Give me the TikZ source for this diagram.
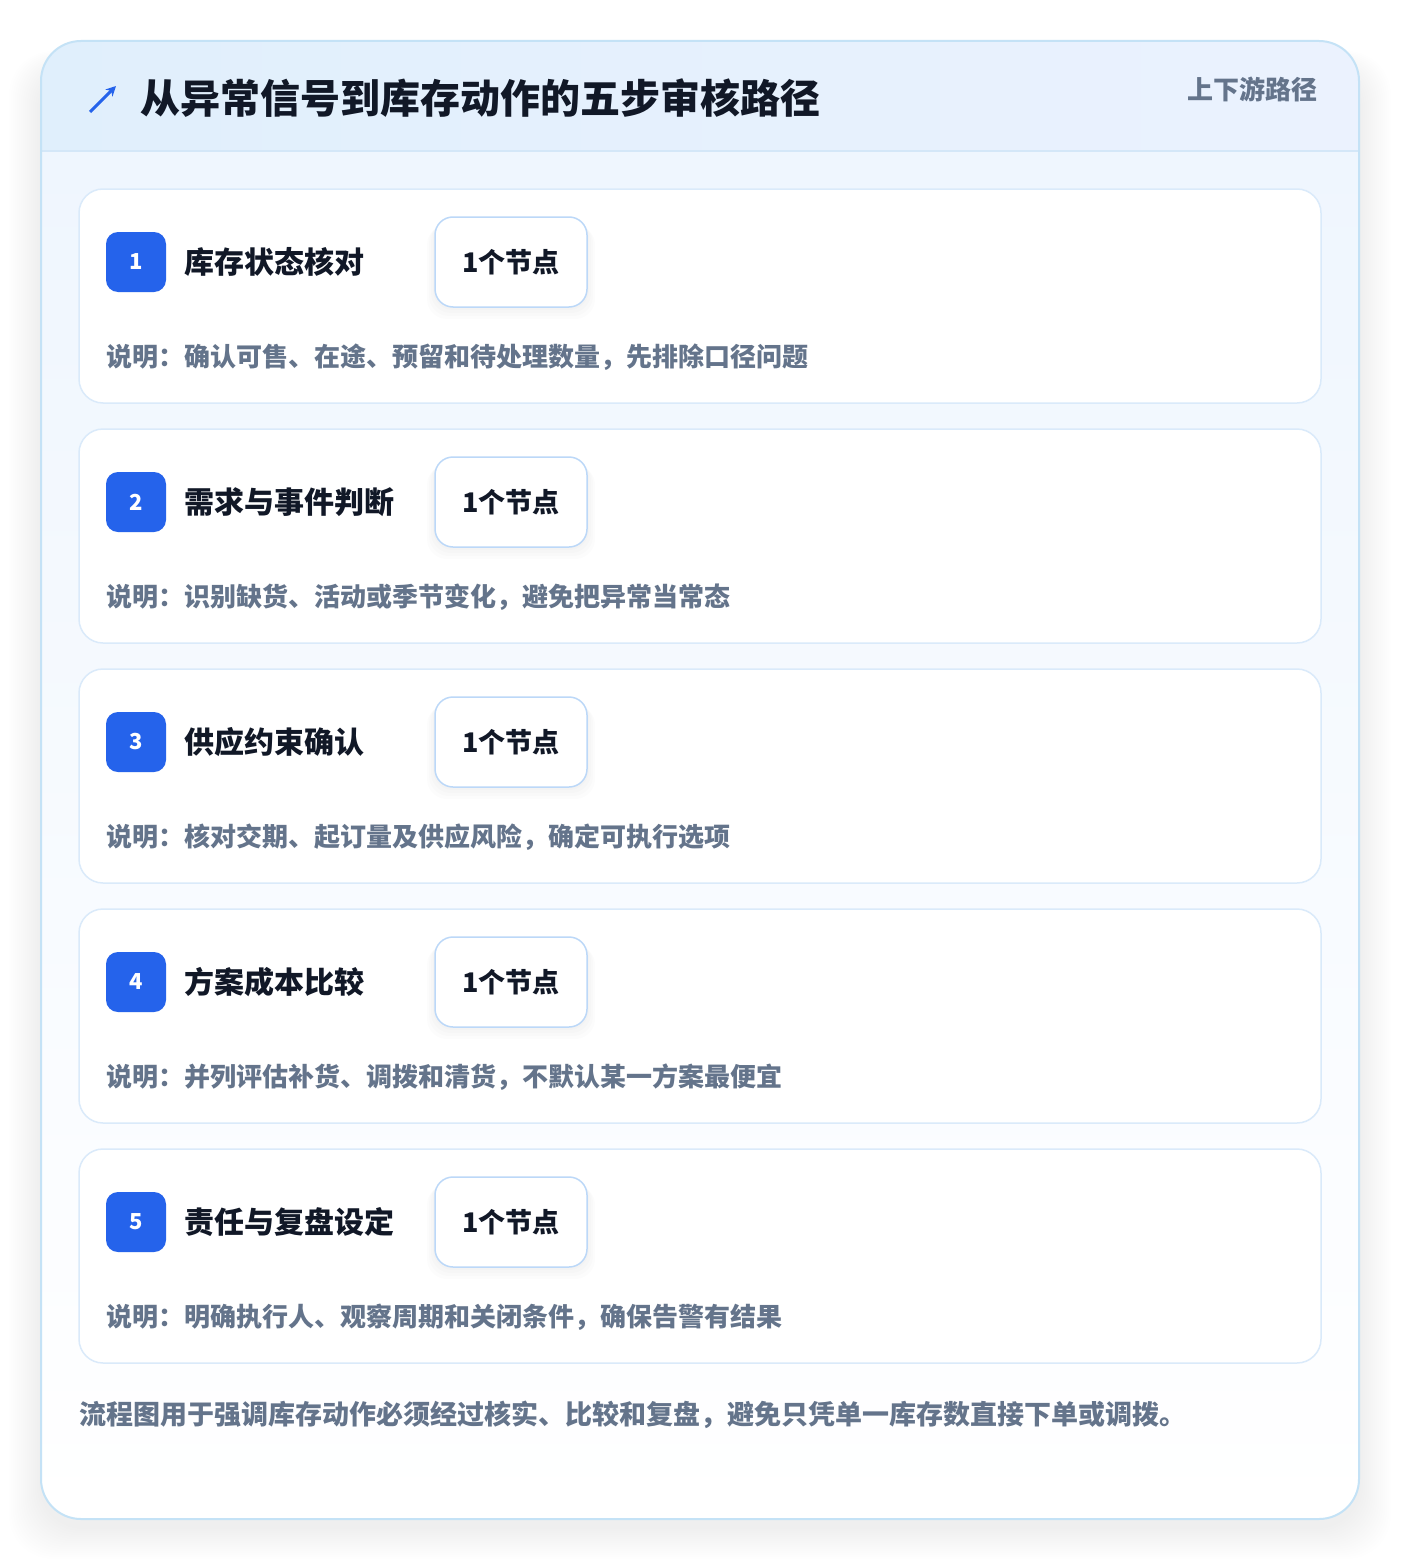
\documentclass[tikz,border=0pt]{standalone}
\usepackage{fontspec}
\setmainfont{Noto Sans CJK SC}
\usepackage{xcolor}
\usepackage{tikz}
\usetikzlibrary{positioning}
\usetikzlibrary{arrows.meta}

\definecolor{cardline}{HTML}{C4E2F6}
\definecolor{headl}{HTML}{E0EFFC}
\definecolor{headr}{HTML}{EBF2FE}
\definecolor{headline}{HTML}{D4E7F8}
\definecolor{bodytop}{HTML}{EFF6FE}
\definecolor{stepline}{HTML}{DAEAFA}
\definecolor{pillline}{HTML}{BCD8F8}
\definecolor{badgeblue}{HTML}{2563EB}
\definecolor{inkdark}{HTML}{111827}
\definecolor{inkgray}{HTML}{64748B}

\begin{document}
\begin{tikzpicture}[x=1pt,y=-1pt,
  stepbox/.style={draw=stepline,line width=1.5pt,fill=white,rounded corners=24pt,
    minimum width=1242pt,minimum height=214pt},
  badge/.style={fill=badgeblue,rounded corners=12pt,minimum size=60pt,inner sep=0pt,
    text=white,font=\bfseries\fontsize{22}{22}\selectfont},
  steptitle/.style={anchor=west,inner sep=0pt,text=inkdark,font=\bfseries\fontsize{30}{30}\selectfont},
  pill/.style={draw=pillline,line width=1.5pt,fill=white,rounded corners=18pt,
    minimum width=152pt,minimum height=90pt,inner sep=0pt,text=inkdark,
    font=\bfseries\fontsize{27}{27}\selectfont},
  desc/.style={anchor=west,inner sep=0pt,text=inkgray,font=\bfseries\fontsize{26}{26}\selectfont}]

\useasboundingbox (0,0) rectangle (1400,1560);
\fill[white] (0,0) rectangle (1400,1560);

% soft shadow under the card
\foreach \k in {1,...,16}
  \fill[black,opacity=0.005,rounded corners=44pt]
    (41-2*\k,41+26-\k) rectangle (1359+2*\k,1519+8+2*\k);

% card with header band
\begin{scope}
  \clip[rounded corners=40pt] (41,41) rectangle (1359,1519);
  \shade[top color=bodytop,bottom color=white] (41,151) rectangle (1359,1519);
  \shade[left color=headl,right color=headr] (41,41) rectangle (1359,151);
  \draw[headline,line width=1.5pt] (41,151) -- (1359,151);
\end{scope}
\draw[cardline,line width=2pt,rounded corners=40pt] (41,41) rectangle (1359,1519);

\draw[badgeblue,line width=3pt,-{Stealth[length=10pt,width=10pt]}] (90,112) -- (116,86);
\node[anchor=west,inner sep=0pt,text=inkdark,font=\bfseries\fontsize{40}{40}\selectfont]
  (title) at (140,98) {从异常信号到库存动作的五步审核路径};
\node[anchor=east,inner sep=0pt,text=inkgray,font=\bfseries\fontsize{26}{26}\selectfont]
  (tag) at (1318,89) {上下游路径};

% the five steps
\foreach \i/\name/\note in {
  1/库存状态核对/说明：确认可售、在途、预留和待处理数量，先排除口径问题,
  2/需求与事件判断/说明：识别缺货、活动或季节变化，避免把异常当常态,
  3/供应约束确认/说明：核对交期、起订量及供应风险，确定可执行选项,
  4/方案成本比较/说明：并列评估补货、调拨和清货，不默认某一方案最便宜,
  5/责任与复盘设定/说明：明确执行人、观察周期和关闭条件，确保告警有结果} {
  \pgfmathsetmacro\yy{262+240*(\i-1)}
  \node[stepbox] (box\i) at (700,\yy+34) {};
  \node[badge] (num\i) at (136,\yy) {\i};
  \node[steptitle] (name\i) at (184,\yy) {\name};
  \foreach \s in {2,4,6,8}
    \fill[black,opacity=0.012,rounded corners=20pt]
      (435-\s,\yy-45+\s) rectangle (587+\s,\yy+45+1.5*\s);
  \node[pill] (pill\i) at (511,\yy) {1个节点};
  \node[desc] (note\i) at (106,\yy+95) {\note};
}

\node[desc,font=\bfseries\fontsize{27}{27}\selectfont] (foot) at (79,1415)
  {流程图用于强调库存动作必须经过核实、比较和复盘，避免只凭单一库存数直接下单或调拨。};
\end{tikzpicture}
\end{document}
